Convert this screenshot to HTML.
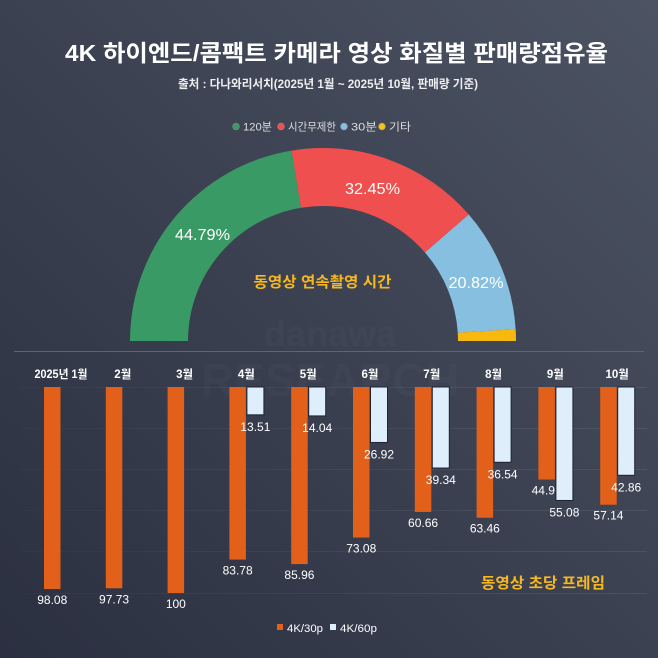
<!DOCTYPE html>
<html>
<head>
<meta charset="utf-8">
<style>
  html,body{margin:0;padding:0;}
  body{width:658px;height:658px;overflow:hidden;background:linear-gradient(to bottom left,#4c5363 0%,#3b4151 50%,#2b3041 100%);}
  svg{display:block;}
  text{font-family:"Liberation Sans","Noto Sans CJK KR",sans-serif;}
</style>
</head>
<body>
<svg width="658" height="658" viewBox="0 0 658 658" xmlns="http://www.w3.org/2000/svg">
  <defs>
    <linearGradient id="gl" x1="0" y1="0" x2="1" y2="0">
      <stop offset="0" stop-color="#ffffff" stop-opacity="0.02"/>
      <stop offset="1" stop-color="#ffffff" stop-opacity="0.08"/>
    </linearGradient>
  </defs>
  <!-- Title -->
  <text x="336.5" y="61" text-anchor="middle" font-size="23" font-weight="bold" fill="#ffffff" textLength="543" lengthAdjust="spacingAndGlyphs">4K 하이엔드/콤팩트 카메라 영상 화질별 판매량점유율</text>
  <text x="328" y="88" text-anchor="middle" font-size="12" font-weight="bold" fill="#eeeeee" textLength="300" lengthAdjust="spacingAndGlyphs">출처 : 다나와리서치(2025년 1월 ~ 2025년 10월, 판매량 기준)</text>

  <!-- Top legend -->
  <g font-size="11" fill="#dddddd">
    <circle cx="236" cy="126.5" r="3.3" fill="#3a9a66" stroke="#6a8a78" stroke-width="0.8"/>
    <text x="243" y="130.5" textLength="29" lengthAdjust="spacingAndGlyphs">120분</text>
    <circle cx="281" cy="126.5" r="3.3" fill="#ef4f4f" stroke="#c07070" stroke-width="0.8"/>
    <text x="288" y="130.5" textLength="48" lengthAdjust="spacingAndGlyphs">시간무제한</text>
    <circle cx="344" cy="126.5" r="3.3" fill="#86bfe0" stroke="#8aa6b8" stroke-width="0.8"/>
    <text x="351" y="130.5" textLength="26" lengthAdjust="spacingAndGlyphs">30분</text>
    <circle cx="382" cy="126.5" r="3.3" fill="#f5c518" stroke="#b8a050" stroke-width="0.8"/>
    <text x="389" y="130.5" textLength="22" lengthAdjust="spacingAndGlyphs">기타</text>
  </g>

  <!-- Watermark -->
  <g fill="#ffffff" opacity="0.02" font-weight="bold" text-anchor="middle">
    <text x="330" y="346" font-size="36">danawa</text>
    <text x="330" y="396" font-size="46">RESEARCH</text>
  </g>

  <!-- Donut (semi) -->
  <path d="M130,341 A193,193 0 0 1 291.55,150.58 L301.0,207.8 A135,135 0 0 0 188,341 Z" fill="#3a9a66"/>
  <path d="M291.55,150.58 A193,193 0 0 1 468.76,214.5 L424.96,252.51 A135,135 0 0 0 301.0,207.8 Z" fill="#ef4f4f"/>
  <path d="M468.76,214.5 A193,193 0 0 1 515.64,329.24 L457.75,332.78 A135,135 0 0 0 424.96,252.51 Z" fill="#86bfe0"/>
  <path d="M515.64,329.24 A193,193 0 0 1 516,341 L458,341 A135,135 0 0 0 457.75,332.78 Z" fill="#f7b90f"/>

  <g font-size="16" fill="#ffffff" text-anchor="middle">
    <text x="202.5" y="240" textLength="55" lengthAdjust="spacingAndGlyphs">44.79%</text>
    <text x="372.5" y="194" textLength="55" lengthAdjust="spacingAndGlyphs">32.45%</text>
    <text x="476" y="288" textLength="55" lengthAdjust="spacingAndGlyphs">20.82%</text>
  </g>
  <text x="322.5" y="287" text-anchor="middle" font-size="15" font-weight="bold" fill="#f6b820" textLength="138" lengthAdjust="spacingAndGlyphs">동영상 연속촬영 시간</text>

  <!-- Divider -->
  <line x1="14" y1="351.5" x2="644" y2="351.5" stroke="#5d6474" stroke-width="1"/>

  <!-- Gridlines -->
  <g fill="url(#gl)">
    <rect x="20" y="387" width="627" height="1"/>
    <rect x="20" y="428" width="627" height="1"/>
    <rect x="20" y="469" width="627" height="1"/>
    <rect x="20" y="510" width="627" height="1"/>
    <rect x="20" y="551" width="627" height="1"/>
    <rect x="20" y="593" width="627" height="1"/>
  </g>

  <!-- Month labels -->
  <g font-size="11.5" font-weight="bold" fill="#ffffff" text-anchor="middle">
    <text x="61" y="378" textLength="53" lengthAdjust="spacingAndGlyphs">2025년 1월</text>
    <text x="122.8" y="378">2월</text>
    <text x="184.6" y="378">3월</text>
    <text x="246.4" y="378">4월</text>
    <text x="308.2" y="378">5월</text>
    <text x="370" y="378">6월</text>
    <text x="431.8" y="378">7월</text>
    <text x="493.6" y="378">8월</text>
    <text x="555.4" y="378">9월</text>
    <text x="617.2" y="378">10월</text>
  </g>

  <!-- Orange bars -->
  <g fill="#e2601a">
    <rect x="44" y="387" width="16.5" height="202.04"/>
    <rect x="105.8" y="387" width="16.5" height="201.32"/>
    <rect x="167.6" y="387" width="16.5" height="206"/>
    <rect x="229.4" y="387" width="16.5" height="172.59"/>
    <rect x="291.2" y="387" width="16.5" height="177.08"/>
    <rect x="353" y="387" width="16.5" height="150.54"/>
    <rect x="414.8" y="387" width="16.5" height="124.96"/>
    <rect x="476.6" y="387" width="16.5" height="130.73"/>
    <rect x="538.4" y="387" width="16.5" height="92.54"/>
    <rect x="600.2" y="387" width="16.5" height="117.71"/>
  </g>
  <!-- Orange labels -->
  <g font-size="12" fill="#ffffff" text-anchor="middle">
    <text x="52.25" y="604">98.08</text>
    <text x="114.05" y="603.3">97.73</text>
    <text x="175.85" y="608">100</text>
    <text x="237.65" y="574.6">83.78</text>
    <text x="299.45" y="579.1">85.96</text>
    <text x="361.25" y="552.5">73.08</text>
    <text x="423.05" y="527">60.66</text>
    <text x="484.85" y="532.7">63.46</text>
    <text x="546.65" y="494.5">44.92</text>
    <text x="608.45" y="519.7">57.14</text>
  </g>

  <!-- Light bars -->
  <g fill="#deeefa" stroke="#1f2432" stroke-width="1">
    <rect x="246.9" y="387" width="17" height="27.83"/>
    <rect x="308.7" y="387" width="17" height="28.92"/>
    <rect x="370.5" y="387" width="17" height="55.46"/>
    <rect x="432.3" y="387" width="17" height="81.04"/>
    <rect x="494.1" y="387" width="17" height="75.27"/>
    <rect x="555.9" y="387" width="17" height="113.46"/>
    <rect x="617.7" y="387" width="17" height="88.29"/>
  </g>
  <!-- Light labels -->
  <g font-size="12" fill="#ffffff" text-anchor="middle">
    <text x="255.4" y="431">13.51</text>
    <text x="317.2" y="432">14.04</text>
    <text x="379" y="458.5">26.92</text>
    <text x="440.8" y="484">39.34</text>
    <text x="502.6" y="478.3">36.54</text>
    <text x="564.4" y="516.5">55.08</text>
    <text x="626.2" y="491.3">42.86</text>
  </g>

  <!-- Bar section title -->
  <text x="543" y="588" text-anchor="middle" font-size="15" font-weight="bold" fill="#f6b820" textLength="124" lengthAdjust="spacingAndGlyphs">동영상 초당 프레임</text>

  <!-- Bottom legend -->
  <rect x="277" y="624" width="6" height="6" fill="#e2601a"/>
  <text x="287" y="632" font-size="11" fill="#ffffff" textLength="36" lengthAdjust="spacingAndGlyphs">4K/30p</text>
  <rect x="330" y="624" width="6" height="6" fill="#deeefa"/>
  <text x="340" y="632" font-size="11" fill="#ffffff" textLength="37" lengthAdjust="spacingAndGlyphs">4K/60p</text>
</svg>
</body>
</html>
